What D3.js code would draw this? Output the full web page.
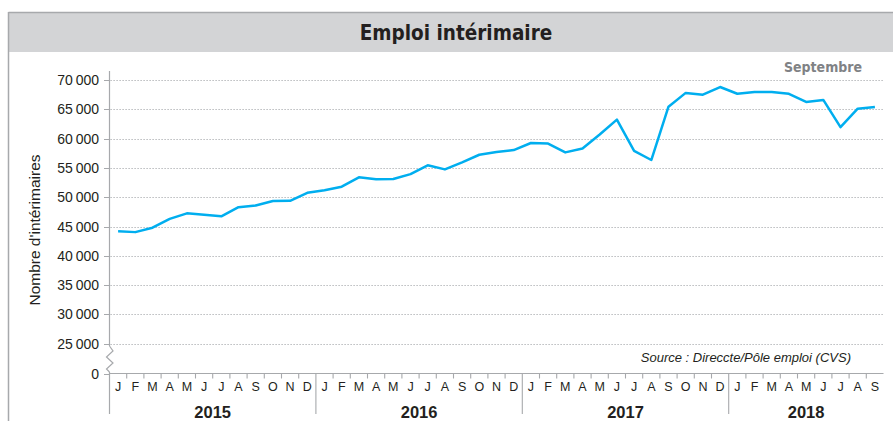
<!DOCTYPE html>
<html lang="fr">
<head>
<meta charset="utf-8">
<script src="https://d3js.org/d3.v7.min.js"></script>
<style>
  body { margin: 0; background: #ffffff; }
  svg { display: block; font-family: "Liberation Sans", Arial, sans-serif; }
  .cond { font-family: "DejaVu Sans Condensed", "DejaVu Sans", sans-serif; font-stretch: condensed; font-weight: bold; }
</style>
</head>
<body>
<script>
// monthly values, Jan 2015 -> Sep 2018
var years = ["2015", "2016", "2017", "2018"];
var monthLetters = ["J","F","M","A","M","J","J","A","S","O","N","D"];
var values2015 = [44200, 44050, 44800, 46300, 47250, 47000, 46750, 48300, 48600, 49350, 49400, 50750];
var values2016 = [51200, 51800, 53400, 53050, 53100, 53950, 55450, 54750, 55950, 57250, 57700, 58050];
var values2017 = [59250, 59150, 57650, 58300, 60700, 63250, 57900, 56350, 65450, 67800, 67500, 68800];
var values2018 = [67650, 67950, 67950, 67650, 66250, 66600, 61950, 65100, 65400];
var yTicks = [0, 25000, 30000, 35000, 40000, 45000, 50000, 55000, 60000, 65000, 70000];

var W = 893, H = 421;
var svg = d3.select("body").append("svg").attr("width", W).attr("height", H);

// frame + title banner
svg.append("rect").attr("x", 8.5).attr("y", 12.5).attr("width", W).attr("height", 39.5)
  .attr("fill", "#d3d4d6");
svg.append("line").attr("x1", 8.5).attr("x2", W).attr("y1", 12.5).attr("y2", 12.5)
  .attr("stroke", "#a7a9ac").attr("stroke-width", 1.5);
svg.append("line").attr("x1", 8.5).attr("x2", 8.5).attr("y1", 12).attr("y2", H)
  .attr("stroke", "#a7a9ac").attr("stroke-width", 1.5);
svg.append("text").attr("class", "cond").attr("x", 456).attr("y", 40)
  .attr("text-anchor", "middle").attr("font-size", 20.5).attr("fill", "#231f20")
  .text("Emploi intérimaire");

var values = values2015.concat(values2016, values2017, values2018);
var months = values.map(function(d, i) { return i; });

var left = 109.5, right = 883.5, y0 = 373.5;
var x = d3.scaleBand().domain(months).range([left, right]).padding(0);
// broken axis: 0 sits one step below 25 000
var y = d3.scaleLinear().domain([0, 25000, 70000]).range([y0, 343.8, 80]);

// gridlines
svg.append("g").selectAll("line").data(yTicks.filter(function(d) { return d > 0; }))
  .enter().append("line")
  .attr("x1", left + 1).attr("x2", right)
  .attr("y1", function(d) { return Math.round(y(d)) + 0.5; })
  .attr("y2", function(d) { return Math.round(y(d)) + 0.5; })
  .attr("stroke", "#a7a9ac").attr("stroke-dasharray", "1.2,1.8");

// y tick labels and ticks
var yg = svg.append("g");
yg.selectAll("text").data(yTicks).enter().append("text")
  .attr("x", 99).attr("y", function(d) { return y(d) + 5; })
  .attr("text-anchor", "end").attr("font-size", 14).attr("fill", "#231f20")
  .text(function(d) { return d === 0 ? "0" : d3.format(",")(d).replace(",", "\u202f"); });
yg.selectAll("line").data(yTicks).enter().append("line")
  .attr("x1", 104).attr("x2", left)
  .attr("y1", function(d) { return Math.round(y(d)) + 0.5; })
  .attr("y2", function(d) { return Math.round(y(d)) + 0.5; })
  .attr("stroke", "#a7a9ac");

// y axis with break
svg.append("line").attr("x1", left).attr("x2", left).attr("y1", 71).attr("y2", 346)
  .attr("stroke", "#a7a9ac").attr("stroke-width", 1.2);
svg.append("path")
  .attr("d", "M" + left + ",346 L" + (left + 3.5) + ",351 L" + (left - 3) + ",357 L" + (left + 3.5) + ",363 L" + (left - 3) + ",369 L" + left + ",372")
  .attr("fill", "none").attr("stroke", "#a7a9ac").attr("stroke-width", 1.2);
svg.append("line").attr("x1", left).attr("x2", left).attr("y1", 372).attr("y2", 414)
  .attr("stroke", "#a7a9ac").attr("stroke-width", 1.2);

// x axis
svg.append("line").attr("x1", left).attr("x2", right).attr("y1", y0).attr("y2", y0)
  .attr("stroke", "#a7a9ac").attr("stroke-width", 1.2);
var xg = svg.append("g");
xg.selectAll("line").data(months.slice(1)).enter().append("line")
  .attr("x1", function(d) { return x(d); }).attr("x2", function(d) { return x(d); })
  .attr("y1", y0).attr("y2", function(d) { return d % 12 === 0 ? 414 : y0 + 5; })
  .attr("stroke", "#a7a9ac").attr("stroke-width", 1.1);
xg.selectAll("text").data(months).enter().append("text")
  .attr("x", function(d) { return x(d) + x.bandwidth() / 2; }).attr("y", 391)
  .attr("text-anchor", "middle").attr("font-size", 12.5).attr("fill", "#231f20")
  .text(function(d) { return monthLetters[d % 12]; });
svg.append("g").selectAll("text").data(years).enter().append("text")
  .attr("x", function(d, i) {
    var first = i * 12, last = Math.min(first + 11, months.length - 1);
    return (x(first) + x(last) + x.bandwidth()) / 2;
  })
  .attr("y", 418).attr("text-anchor", "middle").attr("font-size", 16.5)
  .attr("font-weight", "bold").attr("fill", "#231f20")
  .text(function(d) { return d; });

// series line
svg.append("path").datum(values)
  .attr("fill", "none").attr("stroke", "#00aeef").attr("stroke-width", 2.5)
  .attr("stroke-linejoin", "round")
  .attr("d", d3.line()
    .x(function(d, i) { return x(i) + x.bandwidth() / 2; })
    .y(function(d) { return y(d); }));

// annotations
svg.append("text").attr("class", "cond").attr("x", 823).attr("y", 72)
  .attr("text-anchor", "middle").attr("font-size", 14).attr("fill", "#808285")
  .text("Septembre");
svg.append("text").attr("x", 851).attr("y", 362).attr("text-anchor", "end")
  .attr("font-size", 13).attr("font-style", "italic").attr("fill", "#231f20")
  .text("Source : Direccte/Pôle emploi (CVS)");
svg.append("text").attr("transform", "translate(40,230) rotate(-90)")
  .attr("text-anchor", "middle").attr("font-size", 15.5).attr("fill", "#231f20")
  .text("Nombre d'intérimaires");
</script>
</body>
</html>
